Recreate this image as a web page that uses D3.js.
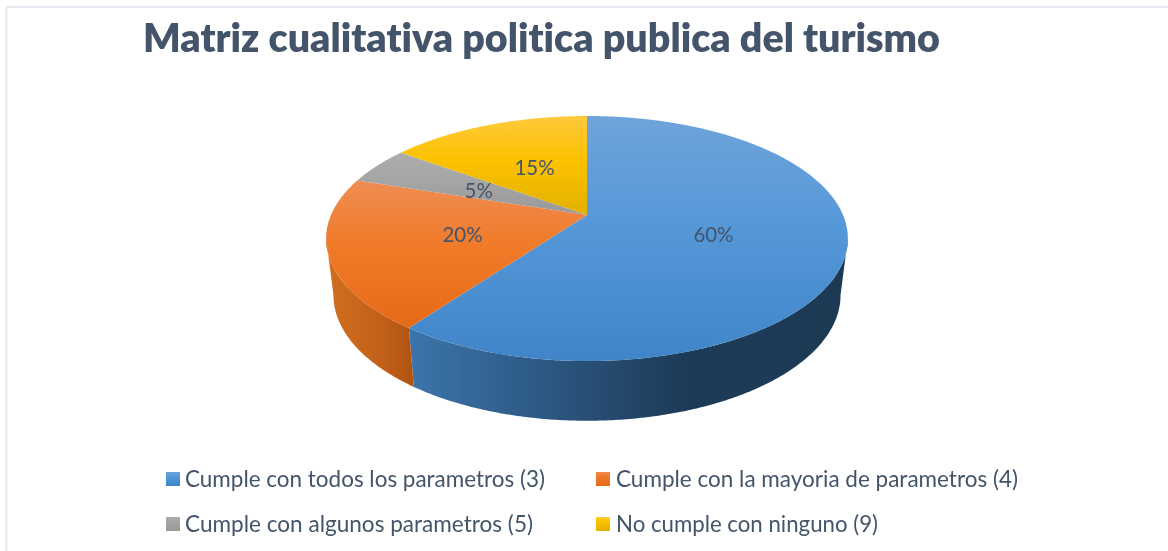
<!DOCTYPE html>
<html>
<head>
<meta charset="utf-8">
<script src="https://d3js.org/d3.v7.min.js"></script>
<style>
  html, body { margin: 0; padding: 0; background: #fff; overflow: hidden; }
  svg { display: block; filter: blur(0.4px); }
  text { font-family: "Lato", "Open Sans", sans-serif; fill: #44546a; font-variant-ligatures: none; }
</style>
</head>
<body>
<div id="chart"></div>
<script>
  var titleText = "Matriz cualitativa politica publica del turismo";
  var categories = [
    "Cumple con todos los parametros (3)",
    "Cumple con la mayoria de parametros (4)",
    "Cumple con algunos parametros (5)",
    "No cumple con ninguno (9)"
  ];
  var shares = [60, 20, 5, 15];
  var shareLabels = ["60%", "20%", "5%", "15%"];

  var width = 1168, height = 551;

  // top face gradient, side wall gradient
  var topColors = [
    ["#6fa3db", "#5598d8", "#3f85c8"],
    ["#f08d52", "#f07a28", "#e56a18"],
    ["#adadad", "#a5a5a5", "#999999"],
    ["#ffc93c", "#fcc200", "#e2b000"]
  ];
  var sideColors = [
    ["#3c74ab", "#1d3b58", "#1d3a54"],
    ["#d06d1e", "#c2601a", "#ad530f"]
  ];
  var sideRanges = [[410, 850], [330, 415]];
  var legendPos = [
    {x: 166, y: 472, tx: 185, len: 360},
    {x: 596, y: 472, tx: 616, len: 402},
    {x: 166, y: 517, tx: 185, len: 348},
    {x: 596, y: 517, tx: 616, len: 262}
  ];

  var svg = d3.select("#chart").append("svg")
    .attr("width", width)
    .attr("height", height);
  var defs = svg.append("defs");

  // chart frame, only left and top edge are in the picture
  svg.append("path")
    .attr("d", "M6.5,551V7H1168")
    .attr("fill", "none")
    .attr("stroke", "#e6e9f1")
    .attr("stroke-width", 2);

  svg.append("text")
    .attr("x", 143)
    .attr("y", 52)
    .attr("font-size", 40)
    .attr("font-weight", 800)
    .attr("textLength", 797)
    .attr("lengthAdjust", "spacingAndGlyphs")
    .text(titleText);

  // tilted pie: perspective map of the unit circle, a = clockwise from 12 o'clock
  var cx = 587, cy = 215, radX = 256, radY = 118, tilt = 0.192;

  function topPoint(a, f) {
    var u = f * Math.sin(a), v = f * Math.cos(a), w = 1 + tilt * v;
    return [cx + radX * u / w, cy - radY * v / w];
  }
  function bottomPoint(a) {
    var u = Math.sin(a), v = Math.cos(a), w = 1 + tilt * v;
    return [cx + 0.972 * radX * u / w, cy + 56 - 121 * v / w];
  }
  function arcAngles(a0, a1) {
    var n = Math.ceil((a1 - a0) / 0.01);
    return d3.range(n + 1).map(function(i) { return a0 + (a1 - a0) * i / n; });
  }

  function addGradient(id, stops, x1, y1, x2, y2, offsets) {
    var g = defs.append("linearGradient")
      .attr("id", id)
      .attr("gradientUnits", "userSpaceOnUse")
      .attr("x1", x1).attr("y1", y1)
      .attr("x2", x2).attr("y2", y2);
    stops.forEach(function(c, i) {
      g.append("stop").attr("offset", offsets[i]).attr("stop-color", c);
    });
  }

  var pie = d3.pie().sort(null).startAngle(0).endAngle(2 * Math.PI);
  var slices = pie(shares);
  var line = d3.line();

  // the wall shows only between the two silhouette angles of the rim
  var frontStart = Math.acos(-tilt), frontEnd = 2 * Math.PI - frontStart;
  var walls = slices.filter(function(d) {
    return d.startAngle < frontEnd && d.endAngle > frontStart;
  });

  sideRanges.forEach(function(r, i) {
    addGradient("side" + i, sideColors[i], r[0], 0, r[1], 0, [0, 0.62, 1]);
  });

  // every face shades over its own height
  slices.forEach(function(d, i) {
    var rim = arcAngles(d.startAngle, d.endAngle).map(function(a) { return topPoint(a, 1); });
    var ys = d3.extent(rim.concat([[cx, cy]]), function(p) { return p[1]; });
    addGradient("top" + i, topColors[i], 0, ys[0], 0, ys[1], [0, 0.45, 1]);
  });

  var pieG = svg.append("g");

  pieG.selectAll(".wall")
    .data(walls)
    .enter().append("path")
    .attr("class", "wall")
    .attr("fill", function(d, i) { return "url(#side" + i + ")"; })
    .attr("d", function(d) {
      var as = arcAngles(Math.max(d.startAngle, frontStart), Math.min(d.endAngle, frontEnd));
      var upper = as.map(function(a) { return topPoint(a, 1); });
      var lower = as.slice().reverse().map(bottomPoint);
      return line(upper.concat(lower)) + "Z";
    });

  pieG.selectAll(".face")
    .data(slices)
    .enter().append("path")
    .attr("class", "face")
    .attr("fill", function(d, i) { return "url(#top" + i + ")"; })
    .attr("d", function(d) {
      var rim = arcAngles(d.startAngle, d.endAngle).map(function(a) { return topPoint(a, 1); });
      return line([[cx, cy]].concat(rim)) + "Z";
    });

  pieG.selectAll(".share")
    .data(slices)
    .enter().append("text")
    .attr("class", "share")
    .attr("text-anchor", "middle")
    .attr("font-size", 22)
    .attr("transform", function(d) {
      var p = topPoint((d.startAngle + d.endAngle) / 2, 0.5);
      return "translate(" + (p[0] + 1) + "," + (p[1] + 8.5) + ") scale(0.93,1)";
    })
    .text(function(d, i) { return shareLabels[i]; });

  // legend
  var legend = svg.selectAll(".legend")
    .data(categories)
    .enter().append("g")
    .attr("class", "legend");

  legendPos.forEach(function(p, i) {
    addGradient("key" + i, topColors[i], 0, p.y, 0, p.y + 14, [0, 0.3, 1]);
  });

  legend.append("rect")
    .attr("x", function(d, i) { return legendPos[i].x; })
    .attr("y", function(d, i) { return legendPos[i].y; })
    .attr("width", 14)
    .attr("height", 14)
    .attr("fill", function(d, i) { return "url(#key" + i + ")"; });

  legend.append("text")
    .attr("x", function(d, i) { return legendPos[i].tx; })
    .attr("y", function(d, i) { return legendPos[i].y + 14.5; })
    .attr("font-size", 22.5)
    .attr("textLength", function(d, i) { return legendPos[i].len; })
    .attr("lengthAdjust", "spacingAndGlyphs")
    .text(function(d) { return d; });
</script>
</body>
</html>
